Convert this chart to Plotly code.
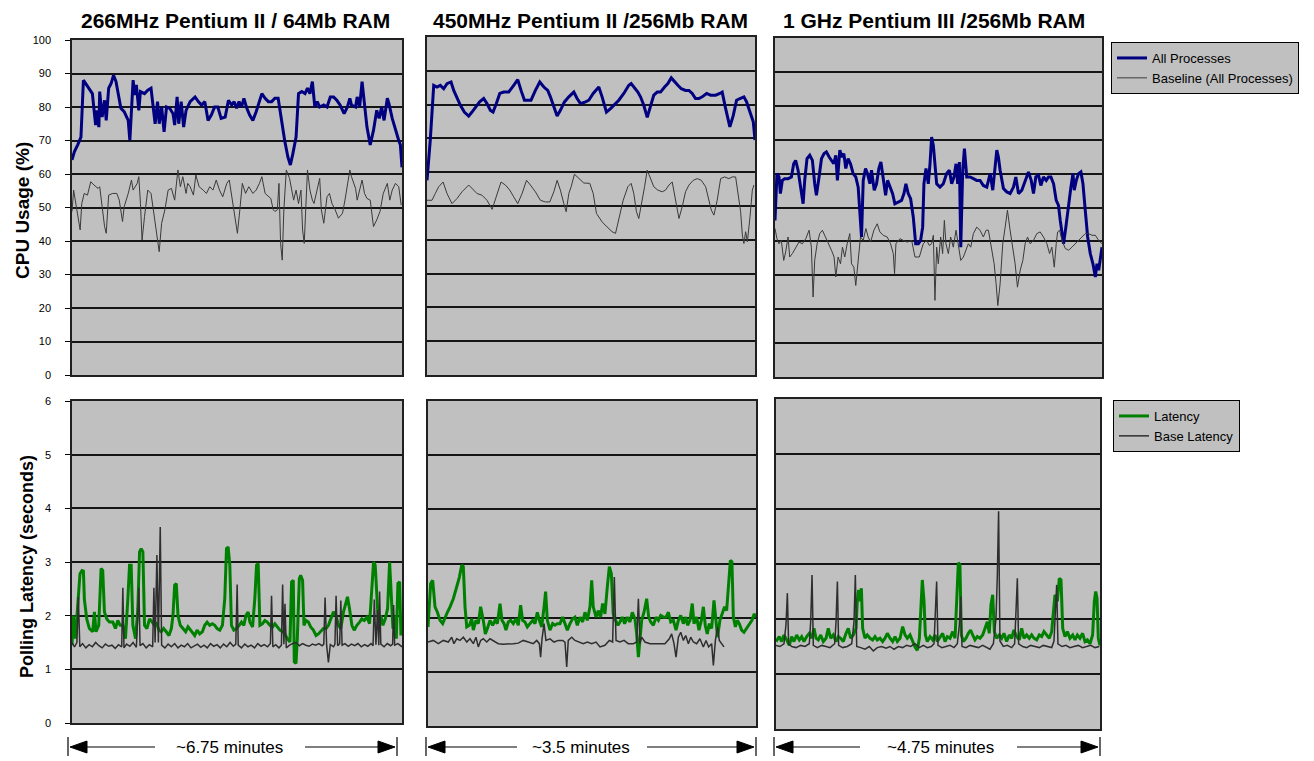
import plotly.graph_objects as go

# page is photographed at 1314x761 with the default 8px body margin
OFF = 8
W, H = 1314 - OFF, 761 - OFF

# ---------------- DATA ----------------
panel_titles = ["266MHz Pentium II / 64Mb RAM", "450MHz Pentium II /256Mb RAM", "1 GHz Pentium III /256Mb RAM"]
span_labels = ["~6.75 minutes", "~3.5 minutes", "~4.75 minutes"]
span_seconds = [405, 210, 285]
cpu_ticks = [0, 10, 20, 30, 40, 50, 60, 70, 80, 90, 100]
lat_ticks = [0, 1, 2, 3, 4, 5, 6]

# --- 266 MHz, CPU usage (%) ---
cpu266_all_t = [0, 3, 7, 11, 14, 17, 21, 25, 29, 30,
                33, 34, 37, 40, 42, 45, 48, 51, 54, 57,
                60, 64, 69, 71, 75, 77, 79, 82, 84, 89,
                93, 97, 100, 102, 105, 107, 110, 113, 116, 120,
                124, 126, 129, 131, 134, 137, 140, 145, 151, 155,
                159, 163, 167, 171, 175, 179, 183, 188, 192, 196,
                199, 202, 205, 208, 211, 214, 218, 222, 226, 233,
                237, 241, 245, 249, 253, 257, 261, 265, 268, 271,
                275, 278, 282, 286, 289, 292, 295, 298, 301, 304,
                309, 313, 317, 321, 325, 329, 334, 338, 341, 343,
                348, 350, 353, 356, 359, 362, 366, 370, 374, 377,
                380, 383, 387, 389, 393, 397, 401, 403, 405]
cpu266_all = [64.2, 66.7, 68.7, 71, 88, 87, 85.6, 84, 74.6, 79,
              74, 84.6, 77, 82, 76, 85.6, 87, 89.5, 87.6, 83,
              79.6, 78.6, 76, 70, 88, 83.6, 86.6, 79, 84.6, 84,
              85, 85.6, 80, 75, 81.6, 75, 80, 72.6, 80, 79.6,
              78, 74.6, 83, 75, 81.6, 74, 79, 81.6, 83, 81.6,
              80.6, 81.6, 76, 77.6, 80, 80, 76.6, 77, 82, 80.6,
              81.6, 79.6, 81.6, 80, 82.6, 80, 77.6, 76, 78.6, 84,
              82.6, 81.6, 81.6, 82.6, 82.6, 75.6, 70, 65, 62.7, 66,
              71, 84, 84.6, 84, 85.6, 84, 87.6, 80, 81.6, 80,
              80.6, 80, 83, 83, 82, 80.6, 78, 80, 82.6, 80.6,
              80, 83, 80, 87.6, 79.6, 74, 68.7, 73, 79, 76.6,
              80, 76, 82.6, 81, 76.6, 73, 70, 68.7, 62]
cpu266_base_t = [0, 2, 4, 6, 8, 10, 12, 15, 19, 23,
                 27, 32, 34, 37, 40, 42, 45, 50, 55, 58,
                 62, 64, 69, 73, 75, 80, 82, 84, 86, 89,
                 93, 97, 101, 105, 107, 110, 114, 118, 122, 126,
                 130, 133, 136, 140, 142, 145, 149, 152, 156, 161,
                 165, 169, 173, 177, 181, 185, 190, 193, 196, 200,
                 203, 206, 209, 213, 217, 222, 226, 230, 233, 237,
                 241, 244, 247, 249, 252, 254, 256, 258, 260, 263,
                 267, 270, 272, 275, 278, 281, 283, 285, 287, 289,
                 292, 295, 297, 300, 304, 306, 309, 313, 316, 319,
                 323, 327, 332, 335, 338, 341, 343, 348, 350, 353,
                 356, 359, 362, 366, 370, 374, 378, 382, 387, 390,
                 393, 397, 401, 404]
cpu266_base = [48.8, 55.2, 52.2, 48.8, 45.8, 43.3, 51.2, 54.2, 53.7, 57.7,
               56.7, 55.7, 56.2, 49.3, 44.3, 42.3, 53.7, 54.2, 54.2, 52.2,
               45.8, 50.2, 54.2, 58.2, 55.2, 57.2, 59.2, 51.2, 40.3, 47.3,
               55.2, 54.2, 47.3, 41.3, 36.8, 45.3, 49.3, 55.2, 55.7, 52.2,
               61.2, 56.2, 59.2, 54.2, 57.2, 56.2, 53.7, 59.7, 56.2, 55.2,
               54.2, 56.2, 55.2, 58.2, 55.2, 53.2, 57.2, 58.2, 53.7, 47.3,
               42.3, 49.3, 57.2, 54.2, 56.2, 54.2, 55.2, 57.2, 59.2, 54.2,
               53.2, 52.7, 49.3, 48.8, 49.3, 57.2, 39.3, 34.3, 49.3, 61.2,
               58.7, 54.7, 52.2, 55.2, 51.2, 55.2, 43.3, 39.3, 50.2, 61.2,
               55.2, 52.2, 51.2, 54.2, 58.7, 49.3, 45.3, 53.2, 54.2, 51.2,
               49.3, 46.8, 48.3, 52.2, 57.2, 61.2, 59.2, 55.7, 52.2, 55.2,
               58.2, 54.2, 52.7, 52.2, 44.3, 46.3, 48.8, 54.2, 57.2, 52.2,
               55.2, 57.2, 56.2, 50.7]

# --- 450 MHz, CPU usage (%) ---
cpu450_all_t = [0, 2.1, 4.3, 6.4, 8.5, 10.7, 12.8, 15.4, 17.1, 19.2,
                21.4, 23.9, 26.7, 28.8, 31.0, 33.7, 36.3, 38.4, 40.6, 42.3,
                44.4, 46.6, 49.1, 52.3, 55.5, 58.1, 60.2, 62.4, 64.5, 66.6,
                69.4, 72.2, 74.8, 77.3, 79.0, 81.2, 83.3, 85.4, 88.0, 90.8,
                94.0, 96.1, 98.3, 101.5, 103.6, 106.4, 110.0, 112.1, 114.9, 117.5,
                119.6, 122.8, 126.0, 129.2, 130.7, 132.4, 135.0, 136.7, 138.8, 141.0,
                143.1, 145.2, 147.4, 149.5, 152.1, 154.2, 156.4, 158.5, 160.6, 162.8,
                165.5, 167.7, 169.8, 171.9, 174.1, 176.2, 179.0, 181.6, 184.8, 187.5,
                189.0, 191.2, 193.9, 196.1, 198.2, 200.4, 202.9, 204.6, 207.2, 208.9,
                210.0]
cpu450_all = [57.6, 69.5, 85.7, 85.2, 85.7, 84.7, 86.2, 86.7, 84.2, 81.8,
              79.8, 77.8, 76.6, 77.8, 79.3, 80.8, 81.8, 80.3, 78.3, 77.8,
              80.3, 83.3, 83.7, 83.7, 85.7, 87.4, 84.2, 81.3, 81.3, 81.3,
              84.2, 86.7, 85.2, 84.2, 82.3, 79.3, 76.6, 78.3, 80.8, 82.3,
              83.7, 81.8, 80.3, 80.8, 81.3, 83.3, 85.2, 82.3, 77.8, 78.8,
              79.8, 81.3, 83.3, 85.7, 86.2, 85.2, 83.7, 82.3, 79.8, 76.2,
              79.3, 82.8, 83.7, 83.7, 85.2, 86.2, 87.9, 86.7, 85.7, 84.7,
              84.2, 84.2, 83.3, 81.8, 81.8, 82.3, 83.3, 82.8, 82.8, 83.3,
              83.7, 78.8, 73.4, 76.8, 81.3, 81.8, 82.3, 80.8, 77.3, 74.9,
              69.5]
cpu450_base_t = [0, 3.2, 5.3, 7.5, 10.3, 12.8, 16.0, 19.2, 22.4, 26.7,
                 29.9, 32.0, 35.2, 38.4, 41.7, 44.4, 47.4, 50.2, 53.0, 55.5,
                 58.1, 60.9, 63.7, 66.2, 69.4, 72.6, 75.8, 78.6, 81.2, 83.3,
                 85.4, 87.6, 89.1, 90.8, 92.3, 94.4, 97.2, 100.4, 104.2, 106.4,
                 108.5, 112.1, 115.3, 118.5, 120.7, 122.8, 125.6, 128.6, 130.7, 132.4,
                 134.1, 135.6, 137.1, 139.3, 141.0, 142.7, 145.2, 147.8, 150.6, 152.7,
                 154.9, 157.0, 159.1, 161.3, 163.4, 165.5, 167.7, 170.5, 173.0, 175.6,
                 178.4, 180.5, 182.0, 183.7, 185.8, 188.0, 190.5, 193.3, 195.4, 197.6,
                 199.1, 200.8, 201.9, 202.9, 204.0, 205.1, 206.8, 208.3, 209.3]
cpu450_base = [51.7, 51.7, 53.7, 55.7, 57.1, 53.7, 50.7, 52.2, 54.2, 56.2,
               54.7, 53.7, 53.2, 51.7, 49.0, 52.7, 57.1, 56.2, 54.7, 52.7,
               50.7, 53.7, 57.6, 56.2, 54.2, 51.7, 51.2, 51.2, 54.2, 57.6,
               54.7, 50.7, 48.3, 53.7, 55.7, 59.4, 58.1, 56.8, 56.7, 53.7,
               47.8, 45.3, 43.8, 42.4, 41.9, 45.8, 51.7, 55.7, 56.7, 53.7,
               48.3, 46.3, 49.8, 55.7, 60.6, 58.6, 55.7, 54.7, 54.2, 54.7,
               56.2, 57.1, 51.7, 46.3, 49.8, 54.2, 56.2, 57.6, 58.1, 57.6,
               55.7, 51.7, 48.8, 47.3, 51.7, 58.1, 58.6, 58.1, 58.6, 58.6,
               53.7, 48.3, 41.4, 38.9, 42.4, 39.4, 46.8, 54.7, 56.2]

# --- 1 GHz, CPU usage (%) ---
cpu1g_all_t = [0, 1.7, 3.5, 4.7, 6.4, 8.4, 11.4, 14.3, 16.3, 18.0,
               20.1, 22.1, 24.5, 25.9, 27.9, 30.3, 32.6, 34.6, 36.1, 38.4,
               40.5, 42.8, 44.8, 47.2, 49.2, 51.2, 53.0, 54.4, 56.5, 58.2,
               60.0, 61.7, 63.7, 65.8, 68.1, 70.4, 72.5, 73.9, 75.4, 76.9,
               78.9, 80.6, 82.7, 84.1, 86.5, 88.5, 90.5, 92.3, 94.3, 96.4,
               98.1, 100.1, 102.5, 104.5, 107.4, 110.3, 112.4, 114.1, 116.1, 118.2,
               120.5, 122.6, 124.9, 126.9, 128.7, 129.8, 131.6, 133.6, 135.1, 136.5,
               138.0, 139.4, 140.9, 143.8, 146.7, 149.6, 152.0, 154.0, 156.0, 157.8,
               159.2, 160.7, 161.9, 163.6, 165.1, 167.1, 170.0, 172.9, 175.8, 178.7,
               181.6, 184.6, 187.5, 189.8, 191.3, 193.3, 194.7, 196.2, 199.1, 202.0,
               204.9, 207.8, 209.9, 212.2, 215.1, 218.0, 220.9, 223.3, 225.3, 227.3,
               229.7, 231.7, 234.0, 236.4, 238.4, 240.5, 242.8, 245.1, 247.1, 248.6,
               250.1, 251.5, 253.5, 255.9, 257.9, 259.7, 260.8, 262.6, 264.6, 266.6,
               268.4, 270.4, 272.5, 274.8, 277.1, 279.2, 280.6, 282.1, 283.5, 285.0]
cpu1g_all = [46.2, 60, 59, 54.1, 58, 58.5, 58.5, 59, 62.9, 63.9,
             61, 56, 51.1, 58, 64.4, 65.4, 63.9, 57, 53.6, 59,
             64.4, 65.9, 66.4, 64.9, 63.9, 62.9, 65.4, 58, 66.9, 64.9,
             65.9, 61.5, 64.4, 62.9, 60, 59, 56, 50.1, 41.3, 58,
             61.5, 60, 57, 61, 55.1, 57, 61.5, 63.4, 59, 53.6,
             58, 56, 54.1, 51.1, 51.6, 52.1, 54.1, 57, 54.1, 52.6,
             47.2, 39.3, 39.3, 40.3, 44.2, 57, 61.5, 57, 62.9, 70.8,
             68.3, 61.9, 57, 56, 57, 60, 61, 57, 59, 62.9,
             57, 63.4, 38.3, 61, 67.4, 59, 59, 58.5, 58, 58,
             56.5, 56, 60, 55.1, 60, 66.9, 64.9, 61, 55.6, 54.6,
             54.1, 56, 59, 54.1, 55.1, 58, 60.5, 58, 54.1, 59,
             59.5, 56.5, 59, 58, 59, 59, 57, 52.1, 50.6, 46.2,
             42.3, 39.3, 44.2, 51.1, 56, 60, 55.1, 58, 60, 60.5,
             57, 49.2, 41.3, 36.4, 33.4, 29.5, 33.4, 31.5, 35.4, 38.3]
cpu1g_base_t = [0, 1.7, 3.5, 5.5, 7.6, 9.3, 11.4, 12.8, 15.1, 18.0,
                20.9, 23.9, 26.8, 29.7, 31.7, 33.2, 34.6, 36.7, 39.0, 41.3,
                44.2, 47.2, 49.2, 51.5, 53.0, 55.0, 57.1, 58.8, 60.8, 62.9,
                65.2, 66.7, 68.7, 70.4, 72.5, 74.5, 76.9, 79.2, 81.2, 83.3,
                86.2, 89.1, 91.4, 94.3, 97.8, 100.7, 103.1, 104.2, 105.4, 108.9,
                111.8, 115.3, 119.1, 122.0, 125.8, 129.2, 132.2, 134.5, 136.5, 138.0,
                139.4, 140.9, 142.3, 144.4, 146.1, 147.6, 149.0, 151.1, 153.1, 155.4,
                157.8, 159.8, 161.9, 164.2, 166.5, 168.5, 170.6, 172.9, 175.8, 178.7,
                181.6, 184.0, 186.0, 187.5, 188.9, 191.0, 192.7, 194.2, 196.2, 198.5,
                200.6, 202.6, 204.9, 207.3, 209.3, 211.3, 213.7, 216.0, 218.0, 220.1,
                222.4, 225.3, 228.2, 231.1, 234.0, 237.0, 239.3, 241.3, 243.4, 245.1,
                246.3, 248.0, 250.1, 253.0, 255.9, 258.8, 261.7, 264.6, 267.5, 270.4,
                273.3, 276.3, 279.2, 282.1, 285.0]
cpu1g_base = [43.8, 40.8, 39.3, 40.3, 34.4, 36.9, 41.3, 35.4, 36.4, 38.3,
              39.8, 39.3, 40.8, 43.3, 38.3, 23.6, 34.4, 39.3, 42.3, 43.3,
              41.3, 38.8, 37.4, 35.4, 29.5, 35.4, 33.4, 38.3, 35.4, 39.3,
              42.3, 33.4, 32.4, 27, 35.4, 41.3, 40.3, 43.8, 41.3, 39.8,
              43.3, 45.2, 42.8, 41.8, 41.3, 39.3, 36.4, 30.5, 39.3, 40.8,
              40.3, 39.8, 40.3, 35.4, 35.4, 39.3, 40.3, 38.8, 39.3, 41.8,
              22.6, 38.3, 33.4, 41.3, 36.4, 46.2, 39.3, 36.4, 41.3, 38.3,
              43.3, 39.3, 34.4, 35.4, 37.4, 39.3, 38.3, 42.3, 44.2, 43.3,
              41.3, 43.3, 43.3, 40.3, 36.4, 33.4, 27.5, 21.1, 27.5, 39.3,
              44.2, 49.2, 43.3, 38.3, 33.4, 26.5, 31.5, 34.4, 39.3, 41.3,
              39.3, 40.3, 42.3, 42.8, 41.3, 39.3, 36.4, 38.3, 32.4, 39.3,
              42.8, 43.3, 40.3, 37.9, 37.4, 38.3, 39.3, 40.3, 41.3, 42.3,
              42.3, 41.8, 41.8, 40.3, 39.3]

# --- 266 MHz, polling latency (s) ---
lat266_t = [0, 1.6, 4.1, 7.0, 9.8, 12.3, 14.0, 15.2, 18.1, 21.3,
            25.4, 27.5, 29.5, 32.8, 35.7, 37.7, 39.8, 42.7, 46.0, 50.1,
            53.3, 56.2, 59.1, 62.4, 65.6, 68.5, 70.6, 72.6, 74.7, 78.0,
            80.8, 82.9, 84.9, 87.0, 89.0, 91.9, 95.2, 98.5, 101.3, 103.4,
            106.7, 109.5, 112.4, 115.7, 119.0, 121.9, 123.9, 126.0, 128.0, 130.1,
            132.9, 136.2, 139.5, 142.4, 146.5, 150.6, 153.5, 156.7, 160.0, 162.9,
            165.8, 169.0, 172.3, 175.2, 178.1, 181.4, 184.6, 187.5, 189.6, 191.6,
            193.7, 195.7, 198.6, 201.9, 205.2, 208.0, 210.9, 213.4, 216.2, 218.3,
            221.6, 224.4, 226.5, 228.5, 230.6, 233.9, 236.7, 239.6, 242.9, 246.2,
            249.0, 251.9, 255.2, 258.5, 261.3, 264.2, 267.5, 269.5, 271.6, 272.8,
            274.9, 276.5, 279.0, 280.6, 283.0, 284.7, 287.2, 290.1, 292.9, 296.2,
            299.5, 302.4, 305.3, 308.5, 311.8, 314.7, 317.6, 320.9, 324.1, 327.0,
            329.9, 333.2, 336.4, 338.1, 340.6, 343.5, 346.3, 349.6, 352.9, 355.7,
            358.6, 361.9, 365.2, 368.0, 370.1, 372.1, 374.2, 376.2, 379.1, 381.6,
            384.5, 387.3, 389.8, 391.4, 393.9, 396.0, 398.0, 400.0, 402.1, 403.7,
            405.0]
lat266 = [1.45, 2.0, 1.57, 2.3, 2.78, 2.84, 2.83, 2.3, 1.94, 1.76,
          1.7, 2.07, 1.7, 1.82, 2.88, 2.84, 2.07, 1.94, 1.88, 1.88,
          1.76, 1.91, 1.82, 1.82, 1.57, 2.3, 2.94, 2.94, 1.82, 1.57,
          2.13, 3.19, 3.25, 3.19, 1.82, 1.76, 1.94, 1.88, 1.82, 1.88,
          1.73, 1.7, 1.76, 1.7, 1.63, 1.76, 2.0, 2.57, 2.6, 2.0,
          1.82, 1.76, 1.7, 1.79, 1.7, 1.63, 1.73, 1.66, 1.7, 1.82,
          1.88, 1.82, 1.85, 1.82, 1.76, 1.73, 1.82, 2.32, 3.25, 3.28,
          2.94, 1.82, 1.73, 1.76, 1.82, 1.88, 1.82, 2.0, 2.07, 1.88,
          1.79, 2.32, 2.94, 2.97, 1.82, 1.85, 1.91, 1.88, 1.82, 1.79,
          1.85, 1.79, 1.73, 1.7, 1.66, 1.57, 1.51, 2.63, 2.66, 1.14,
          1.11, 1.57, 2.69, 2.75, 2.66, 1.82, 1.91, 1.88, 1.79, 1.73,
          1.63, 1.66, 1.7, 1.76, 1.76, 1.82, 1.94, 2.07, 2.0, 1.82,
          1.76, 2.07, 2.25, 2.35, 2.13, 1.82, 1.73, 1.82, 1.88, 1.94,
          1.91, 1.97, 1.85, 2.57, 3.0, 2.94, 2.32, 1.82, 2.0, 1.82,
          1.94, 2.13, 3.0, 2.57, 1.76, 2.0, 1.57, 2.6, 2.63, 1.63,
          2.0]
lat266_base_t = [0, 3, 6, 7.8, 9.6, 13, 17, 21, 25, 29,
                 33, 37, 41, 45, 49, 53, 57, 61, 62.4, 63.8,
                 67, 71, 75, 79, 82.1, 83.5, 87, 91, 95, 99,
                 100.5, 102, 104.2, 106, 108.3, 110, 114, 118, 122, 126,
                 130, 134, 138, 142, 146, 150, 154, 158, 162, 166,
                 170, 174, 178, 182, 186, 190, 194, 198, 201, 202.7,
                 204, 208, 212, 216, 220, 224, 228, 232, 236, 240,
                 243.5, 244.9, 246.5, 250, 254, 257, 258.5, 260, 261.4, 263,
                 267, 271, 275, 279, 283, 287, 291, 295, 299, 303,
                 307, 309, 310.6, 312.5, 314.7, 317, 321, 322.7, 324.1, 326,
                 328.5, 329.9, 331.5, 335, 339, 343, 347, 351, 355, 359,
                 363, 367, 369.5, 371, 373, 375, 376.5, 377.5, 379, 383,
                 387, 391, 393.5, 394.7, 396, 400, 405]
lat266_base = [1.5, 1.42, 1.5, 2.35, 1.42, 1.48, 1.4, 1.46, 1.42, 1.5,
               1.44, 1.4, 1.47, 1.43, 1.45, 1.39, 1.46, 1.42, 2.52, 1.4,
               1.47, 1.43, 1.5, 1.41, 2.52, 1.44, 1.48, 1.4, 1.46, 1.42,
               2.52, 1.5, 3.13, 1.5, 3.65, 1.45, 1.4, 1.47, 1.42, 1.48,
               1.4, 1.45, 1.42, 1.48, 1.4, 1.44, 1.47, 1.41, 1.45, 1.4,
               1.48, 1.43, 1.46, 1.4, 1.47, 1.42, 1.5, 1.43, 1.47, 2.58,
               1.45, 1.4, 1.47, 1.42, 1.45, 1.4, 1.48, 1.43, 1.46, 1.42,
               1.48, 2.37, 1.42, 1.46, 1.4, 1.45, 2.58, 1.47, 2.22, 1.4,
               1.45, 1.48, 1.5, 1.44, 1.48, 1.45, 1.43, 1.47, 1.45, 1.48,
               1.44, 1.47, 2.34, 1.45, 1.13, 1.46, 1.42, 1.47, 2.37, 1.44,
               1.48, 2.28, 1.45, 1.48, 1.43, 1.47, 1.44, 1.48, 1.42, 1.46,
               1.43, 1.48, 1.44, 2.3, 1.46, 2.1, 1.45, 2.45, 1.47, 1.42,
               1.48, 1.44, 1.47, 2.2, 1.45, 1.48, 1.42]

# --- 450 MHz, polling latency (s) ---
lat450_t = [0, 1.7, 3.0, 4.5, 6.0, 7.7, 9.4, 10.9, 12.4, 14.1,
            16.2, 18.4, 20.1, 21.6, 22.6, 23.7, 24.8, 26.5, 28.0, 29.0,
            30.7, 32.2, 33.7, 35.4, 36.7, 38.0, 39.7, 41.4, 42.9, 44.4,
            46.1, 47.4, 48.7, 49.9, 51.4, 52.9, 54.6, 56.3, 57.8, 59.3,
            60.6, 62.1, 63.6, 65.3, 67.0, 68.5, 70.0, 71.3, 72.8, 74.3,
            75.3, 76.4, 78.1, 79.8, 81.3, 82.8, 84.5, 86.2, 87.7, 89.2,
            90.9, 92.6, 94.1, 95.6, 97.3, 99.0, 100.5, 102.0, 103.7, 104.8,
            105.8, 107.6, 109.0, 110.5, 111.8, 113.3, 114.8, 116.1, 117.4, 118.6,
            120.1, 121.6, 122.9, 124.4, 125.9, 127.6, 129.3, 130.8, 132.5, 133.6,
            134.7, 135.7, 136.8, 138.3, 140.0, 141.3, 142.6, 144.3, 146.0, 147.5,
            149.0, 150.7, 152.4, 153.9, 155.4, 157.1, 158.8, 160.3, 161.8, 163.5,
            165.0, 166.2, 167.7, 169.2, 170.3, 172.0, 173.5, 175.0, 176.3, 177.5,
            178.8, 180.1, 181.6, 183.1, 184.4, 185.4, 186.9, 188.4, 189.9, 191.2,
            192.5, 193.6, 194.6, 195.5, 196.8, 198.0, 199.3, 200.8, 202.3, 204.0,
            205.7, 207.4, 208.9, 210.0]
lat450 = [1.83, 2.63, 2.69, 2.2, 2.1, 1.95, 1.89, 2.01, 2.1, 2.2,
          2.35, 2.57, 2.75, 2.97, 2.94, 2.2, 1.83, 1.86, 1.98, 1.77,
          1.95, 1.89, 2.2, 1.95, 1.7, 1.8, 1.95, 1.86, 1.95, 1.89,
          2.26, 1.95, 1.89, 1.77, 1.92, 1.95, 1.89, 1.98, 1.86, 2.23,
          1.95, 1.92, 1.83, 1.89, 1.95, 1.89, 2.1, 1.95, 1.83, 2.2,
          2.48, 1.95, 1.77, 1.89, 1.86, 1.89, 1.89, 2.01, 1.89, 1.77,
          1.89, 1.98, 2.01, 1.86, 2.01, 1.92, 2.1, 1.95, 2.2, 2.69,
          2.2, 2.01, 2.13, 2.01, 2.26, 2.07, 2.57, 2.94, 2.81, 2.07,
          1.95, 1.86, 1.92, 2.01, 1.89, 2.01, 1.92, 2.1, 1.98, 1.7,
          1.27, 1.58, 1.95, 2.1, 2.35, 2.01, 1.92, 1.86, 2.01, 1.95,
          2.04, 2.01, 2.01, 2.1, 1.92, 1.95, 1.77, 1.95, 2.04, 1.89,
          2.01, 1.86, 1.95, 2.26, 1.89, 2.01, 1.77, 1.95, 2.2, 1.86,
          1.7, 1.89, 1.8, 2.32, 1.95, 1.64, 1.95, 2.07, 2.2, 2.13,
          2.57, 3.06, 3.03, 2.01, 1.83, 1.95, 1.89, 1.77, 1.73, 1.8,
          1.86, 1.95, 2.07, 2.01]
lat450_base_t = [0, 3.4, 6.6, 9.8, 13.0, 15.2, 16.6, 18.4, 20.5, 22.6,
                 24.8, 26.9, 29.0, 30.7, 32.2, 33.7, 35.4, 37.6, 39.7, 41.8,
                 45.0, 48.2, 51.4, 54.6, 57.8, 61.0, 64.2, 67.4, 69.6, 71.3,
                 72.1, 73.0, 74.3, 75.5, 78.1, 80.7, 83.4, 86.2, 87.7, 88.8,
                 89.8, 92.0, 94.1, 96.9, 99.4, 102.0, 104.8, 107.6, 110.1, 113.3,
                 116.1, 118.2, 119.3, 120.4, 122.9, 125.5, 128.2, 131.5, 133.6, 134.7,
                 135.7, 136.8, 138.9, 142.1, 145.3, 148.5, 151.7, 154.5, 156.0, 157.5,
                 158.8, 160.3, 161.8, 163.5, 165.0, 166.7, 168.2, 169.9, 172.0, 174.1,
                 176.3, 178.0, 179.7, 181.6, 182.7, 184.0, 185.4, 186.5, 188.0, 189.5]
lat450_base = [1.55, 1.58, 1.52, 1.58, 1.55, 1.64, 1.52, 1.61, 1.58, 1.64,
               1.55, 1.61, 1.52, 1.64, 1.46, 1.58, 1.61, 1.55, 1.61, 1.58,
               1.52, 1.51, 1.51, 1.52, 1.53, 1.58, 1.55, 1.52, 1.58, 1.52,
               1.27, 1.61, 1.89, 1.58, 1.61, 1.55, 1.58, 1.58, 1.55, 1.09,
               1.58, 1.64, 1.58, 1.55, 1.52, 1.55, 1.52, 1.55, 1.46, 1.49,
               1.58, 1.55, 2.75, 1.58, 1.55, 1.58, 1.52, 1.52, 1.55, 2.35,
               1.52, 1.64, 1.55, 1.52, 1.52, 1.52, 1.52, 1.61, 1.7, 1.52,
               1.27, 1.64, 1.73, 1.58, 1.67, 1.52, 1.64, 1.55, 1.52, 1.61,
               1.46, 1.58, 1.46, 1.52, 1.12, 1.58, 1.83, 1.58, 1.52, 1.46]

# --- 1 GHz, polling latency (s) ---
lat1g_t = [0, 2.9, 5.0, 7.0, 9.4, 11.7, 13.8, 15.8, 18.2, 20.5,
           22.6, 24.6, 27.0, 29.3, 31.4, 33.4, 35.2, 37.2, 39.3, 41.6,
           44.0, 46.0, 48.1, 50.4, 52.8, 54.8, 56.9, 59.2, 61.6, 63.6,
           65.7, 68.0, 70.4, 71.5, 72.7, 73.9, 75.1, 76.2, 78.3, 80.3,
           82.7, 85.0, 87.1, 89.1, 91.5, 93.8, 95.9, 97.9, 100.3, 102.6,
           104.7, 106.7, 109.1, 111.4, 113.5, 115.5, 117.9, 120.2, 122.3, 124.3,
           126.1, 127.3, 128.7, 130.2, 131.4, 133.1, 135.5, 137.8, 139.9, 141.9,
           144.3, 146.6, 148.7, 150.7, 153.1, 155.4, 157.5, 158.9, 160.4, 161.8,
           163.0, 164.8, 167.1, 169.2, 171.2, 173.0, 175.0, 177.1, 179.4, 181.8,
           183.8, 185.9, 187.6, 189.1, 190.6, 192.1, 194.1, 196.4, 198.5, 200.5,
           202.9, 205.2, 207.3, 209.3, 211.7, 214.0, 216.1, 218.1, 220.5, 222.8,
           224.9, 226.9, 229.3, 231.6, 233.7, 235.7, 238.1, 240.4, 242.5, 243.9,
           245.4, 247.5, 249.2, 250.7, 252.2, 254.2, 256.3, 258.6, 261.0, 263.0,
           265.1, 267.4, 269.7, 271.8, 273.9, 276.2, 278.5, 280.0, 281.2, 282.4,
           283.5, 285.0]
lat1g = [1.59, 1.68, 1.59, 1.71, 1.62, 1.52, 1.68, 1.59, 1.71, 1.62,
         1.68, 1.59, 1.68, 1.74, 1.65, 1.83, 1.65, 1.62, 1.71, 1.59,
         1.65, 1.83, 1.65, 1.71, 1.59, 1.68, 1.65, 1.59, 1.74, 1.83,
         1.65, 1.71, 1.83, 2.32, 2.53, 2.32, 2.56, 1.83, 1.65, 1.71,
         1.65, 1.62, 1.68, 1.62, 1.65, 1.59, 1.65, 1.74, 1.65, 1.59,
         1.68, 1.59, 1.65, 1.86, 1.71, 1.65, 1.71, 1.59, 1.49, 1.43,
         1.65, 2.13, 2.71, 2.32, 1.71, 1.59, 1.68, 1.62, 1.71, 1.59,
         1.68, 1.74, 1.59, 1.68, 1.65, 1.77, 1.65, 2.32, 3.02, 2.99,
         1.71, 1.59, 1.65, 1.74, 1.8, 1.71, 1.62, 1.68, 1.65, 1.71,
         1.83, 1.95, 1.74, 2.26, 2.44, 1.77, 1.65, 1.71, 1.65, 1.74,
         1.59, 1.71, 1.65, 1.8, 1.68, 1.62, 1.83, 1.65, 1.71, 1.65,
         1.71, 1.65, 1.62, 1.71, 1.68, 1.77, 1.71, 1.65, 1.77, 2.13,
         2.44, 2.32, 2.74, 2.71, 1.83, 1.68, 1.77, 1.65, 1.71, 1.62,
         1.71, 1.65, 1.74, 1.59, 1.62, 1.55, 1.71, 2.32, 2.5, 2.38,
         1.65, 1.52]
lat1g_base_t = [0, 3.5, 7.0, 8.8, 10.0, 11.1, 13.8, 17.6, 21.7, 25.5,
                29.3, 30.5, 31.7, 32.8, 36.4, 40.2, 44.0, 47.5, 51.6, 52.8,
                54.0, 55.1, 58.6, 62.7, 66.6, 68.6, 69.8, 71.0, 74.5, 78.3,
                82.1, 85.6, 89.1, 92.9, 96.8, 100.3, 103.8, 107.6, 111.4, 114.9,
                118.4, 122.3, 126.1, 129.6, 133.1, 136.6, 139.0, 140.1, 141.3, 142.5,
                146.0, 149.5, 153.1, 156.6, 159.5, 161.3, 162.5, 163.6, 167.1, 170.6,
                174.2, 178.0, 181.8, 185.3, 188.2, 191.2, 193.5, 194.7, 195.8, 197.0,
                199.9, 203.5, 207.3, 209.9, 211.1, 212.3, 213.4, 217.0, 220.5, 224.0,
                227.8, 231.6, 235.1, 238.7, 242.5, 244.5, 245.7, 246.9, 248.0, 251.6,
                255.1, 258.6, 262.1, 265.9, 269.7, 273.3, 276.8, 280.6, 284.4]
lat1g_base = [1.52, 1.5, 1.55, 1.9, 2.47, 1.55, 1.5, 1.48, 1.52, 1.5,
              1.55, 1.95, 2.8, 1.52, 1.48, 1.52, 1.5, 1.48, 1.55, 1.95,
              2.68, 1.52, 1.48, 1.5, 1.55, 1.95, 2.8, 1.5, 1.48, 1.45,
              1.5, 1.42, 1.48, 1.5, 1.47, 1.5, 1.45, 1.5, 1.48, 1.52,
              1.5, 1.55, 1.48, 1.52, 1.48, 1.5, 1.55, 2.0, 2.68, 1.52,
              1.48, 1.5, 1.52, 1.48, 1.55, 1.9, 2.41, 1.5, 1.48, 1.52,
              1.5, 1.48, 1.52, 1.48, 1.45, 1.55, 2.0, 2.8, 3.96, 1.6,
              1.5, 1.52, 1.48, 1.55, 2.1, 2.74, 1.55, 1.5, 1.48, 1.52,
              1.5, 1.48, 1.52, 1.5, 1.48, 1.6, 2.1, 2.62, 1.55, 1.5,
              1.52, 1.48, 1.5, 1.52, 1.48, 1.5, 1.52, 1.48, 1.5]

# ---------------- STYLE ----------------
BG = "#C0C0C0"
NAVY = "#000080"
GREEN = "#008000"
GRAY_CPU = "#3a3a3a"
GRAY_LAT = "#2e2e2e"
GRID = "#151515"
FONT = "Liberation Sans, Arial, sans-serif"


def fx(p):
    """screen pixel (x) -> paper fraction"""
    return (p - OFF) / W


def fy(p):
    """screen pixel (y) -> paper fraction"""
    return 1 - (p - OFF) / H


# plot areas in screen pixels: (left, right, top, bottom)
areas = [
    (72, 402, 40, 375), (427, 755, 37, 375), (775, 1102, 38, 377),
    (72, 402, 401, 723), (428, 756, 401, 726), (776, 1100, 399, 729),
]

fig = go.Figure()

cpu_sets = [(cpu266_all_t, cpu266_all, cpu266_base_t, cpu266_base),
            (cpu450_all_t, cpu450_all, cpu450_base_t, cpu450_base),
            (cpu1g_all_t, cpu1g_all, cpu1g_base_t, cpu1g_base)]
lat_sets = [(lat266_t, lat266, lat266_base_t, lat266_base),
            (lat450_t, lat450, lat450_base_t, lat450_base),
            (lat1g_t, lat1g, lat1g_base_t, lat1g_base)]

for i, (ta, va, tb, vb) in enumerate(cpu_sets):
    ax = "" if i == 0 else str(i + 1)
    fig.add_trace(go.Scatter(x=ta, y=va, mode="lines", name="All Processes",
                             line=dict(color=NAVY, width=3), xaxis="x" + ax, yaxis="y" + ax,
                             legend="legend", showlegend=(i == 0)))
    fig.add_trace(go.Scatter(x=tb, y=vb, mode="lines", name="Baseline (All Processes)",
                             line=dict(color=GRAY_CPU, width=1), xaxis="x" + ax, yaxis="y" + ax,
                             legend="legend", showlegend=(i == 0)))

for i, (ta, va, tb, vb) in enumerate(lat_sets):
    ax = str(i + 4)
    fig.add_trace(go.Scatter(x=ta, y=va, mode="lines", name="Latency",
                             line=dict(color=GREEN, width=3), xaxis="x" + ax, yaxis="y" + ax,
                             legend="legend2", showlegend=(i == 0)))
    fig.add_trace(go.Scatter(x=tb, y=vb, mode="lines", name="Base Latency",
                             line=dict(color=GRAY_LAT, width=1.5), xaxis="x" + ax, yaxis="y" + ax,
                             legend="legend2", showlegend=(i == 0)))

layout = {}
for k, (l, r, t, b) in enumerate(areas):
    n = "" if k == 0 else str(k + 1)
    is_cpu = k < 3
    labeled = k in (0, 3)
    layout["xaxis" + n] = dict(domain=[fx(l), fx(r)], range=[0, span_seconds[k % 3]],
                               anchor="y" + n, showgrid=False, zeroline=False, automargin=False,
                               showticklabels=False, ticks="", showline=True, mirror=True,
                               linecolor="#202020", linewidth=1.5, fixedrange=True)
    layout["yaxis" + n] = dict(domain=[fy(b), fy(t)],
                               range=[0, 100] if is_cpu else [0, 6],
                               tickvals=cpu_ticks if is_cpu else lat_ticks,
                               anchor="x" + n, showgrid=True, gridcolor=GRID, gridwidth=1.6,
                               zeroline=False, showline=True, mirror=True, automargin=False,
                               linecolor="#202020", linewidth=1.5,
                               showticklabels=labeled, ticks="outside" if labeled else "",
                               ticklen=5, tickwidth=1, tickcolor="black",
                               ticklabelstandoff=12,
                               tickfont=dict(family=FONT, size=11, color="black"),
                               fixedrange=True)

fig.update_layout(**layout)

annotations = []
title_centers = [235, 590, 934]
for title, cx in zip(panel_titles, title_centers):
    annotations.append(dict(text="<b>" + title + "</b>", x=fx(cx), y=fy(21), xref="paper", yref="paper",
                            showarrow=False, xanchor="center", yanchor="middle",
                            font=dict(family=FONT, size=21, color="black")))
annotations.append(dict(text="<b>CPU Usage (%)</b>", x=fx(22), y=fy(211), xref="paper", yref="paper",
                        showarrow=False, textangle=-90, xanchor="center", yanchor="middle",
                        font=dict(family=FONT, size=19, color="black")))
annotations.append(dict(text="<b>Polling Latency (seconds)</b>", x=fx(27), y=fy(567), xref="paper",
                        yref="paper", showarrow=False, textangle=-90, xanchor="center", yanchor="middle",
                        font=dict(family=FONT, size=18, color="black")))

# duration span markers under the latency panels
spans = [(68, 397, 155, 230, 305), (426, 756, 517, 581, 647), (774, 1100, 860, 940, 1017)]
shapes = []
YS = 747
for (L, R, g1, cx, g2), label in zip(spans, span_labels):
    annotations.append(dict(text=label, x=fx(cx), y=fy(YS), xref="paper", yref="paper",
                            showarrow=False, xanchor="center", yanchor="middle",
                            font=dict(family=FONT, size=17, color="black")))
    for xx in (L, R):
        shapes.append(dict(type="line", xref="paper", yref="paper", x0=fx(xx), x1=fx(xx),
                           y0=fy(737), y1=fy(756), line=dict(color="black", width=1.2)))
    shapes.append(dict(type="line", xref="paper", yref="paper", x0=fx(L + 18), x1=fx(g1),
                       y0=fy(YS), y1=fy(YS), line=dict(color="black", width=1.2)))
    shapes.append(dict(type="line", xref="paper", yref="paper", x0=fx(g2), x1=fx(R - 18),
                       y0=fy(YS), y1=fy(YS), line=dict(color="black", width=1.2)))
    for tip, base in ((L + 2, L + 19), (R - 2, R - 19)):
        path = "M {} {} L {} {} L {} {} Z".format(fx(tip), fy(YS), fx(base), fy(YS - 6),
                                                   fx(base), fy(YS + 6))
        shapes.append(dict(type="path", xref="paper", yref="paper", path=path,
                           fillcolor="black", line=dict(color="black", width=1)))

fig.update_layout(
    width=W, height=H,
    margin=dict(l=0, r=0, t=0, b=0, pad=0, autoexpand=False),
    paper_bgcolor="white", plot_bgcolor=BG,
    font=dict(family=FONT, color="black"),
    annotations=annotations, shapes=shapes,
    legend=dict(x=fx(1111), y=fy(42), xanchor="left", yanchor="top", bgcolor=BG,
                bordercolor="black", borderwidth=1, font=dict(family=FONT, size=13, color="black"),
                tracegroupgap=0, traceorder="normal"),
    legend2=dict(x=fx(1113), y=fy(400), xanchor="left", yanchor="top", bgcolor=BG,
                 bordercolor="black", borderwidth=1, font=dict(family=FONT, size=13, color="black"),
                 tracegroupgap=0, traceorder="normal"),
)

fig.write_html("out.html")
